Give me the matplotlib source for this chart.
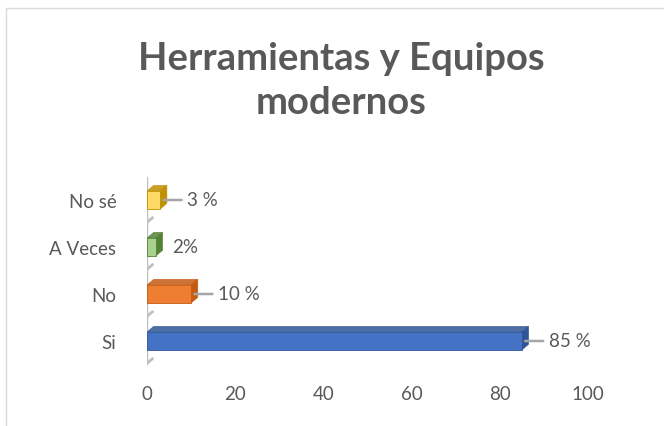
import matplotlib.pyplot as plt
from matplotlib.patches import Polygon, Rectangle

# datos
categorias = ["Si", "No", "A Veces", "No sé"]
valores = [85, 10, 2, 3]
etiquetas = ["85 %", "10 %", "2%", "3 %"]
frente = ["#4472C4", "#ED7D31", "#A9D18E", "#FFD966"]
oscuro = ["#2F5597", "#C55A11", "#548235", "#BF9000"]
con_linea = [True, True, False, True]

plt.rcParams['font.family'] = ['Lato', 'DejaVu Sans']
gris = "#595959"

fig = plt.figure(figsize=(6.64, 4.27), dpi=100)
# borde del área del gráfico
fig.patches.append(Rectangle((6 / 664, -0.1), 1.2, 1 - 9 / 427 + 0.1,
                             transform=fig.transFigure, fill=False,
                             edgecolor="#D9D9D9", lw=1))

ax = fig.add_axes([147 / 664, 1 - 365.5 / 427, 441 / 664, 188 / 427])

h = 0.38
dx, dy = 1.5, 0.12
y = list(range(len(categorias)))

# pared izquierda
ax.plot([-0.3, -0.3], [-0.5, 3.5], color="#BFBFBF", lw=2.5, zorder=1)
for k in range(len(categorias) + 1):
    ax.plot([-0.3, dx * 0.8], [k - 0.5, k - 0.5 + dy], color="#BFBFBF", lw=2, zorder=1)

ax.barh(y, valores, height=h, color=frente, edgecolor=oscuro, lw=0.6, zorder=3)
for yi, v, c in zip(y, valores, oscuro):
    top = Polygon([(0, yi + h / 2), (v, yi + h / 2), (v + dx, yi + h / 2 + dy),
                   (dx, yi + h / 2 + dy)], closed=True, facecolor=c, alpha=0.85,
                  edgecolor=c, lw=0.5, zorder=2)
    side = Polygon([(v, yi - h / 2), (v + dx, yi - h / 2 + dy),
                    (v + dx, yi + h / 2 + dy), (v, yi + h / 2)], closed=True,
                   facecolor=c, edgecolor=c, lw=0.5, zorder=2)
    ax.add_patch(top)
    ax.add_patch(side)

for yi, v, t, linea in zip(y, valores, etiquetas, con_linea):
    if linea:
        ax.annotate("", xy=(v + dx / 2, yi), xytext=(13, 0), textcoords="offset points",
                    arrowprops=dict(arrowstyle="-", color="#A6A6A6", lw=1.8,
                                    shrinkA=0, shrinkB=0))
        ax.annotate(t, xy=(v + dx / 2, yi), xytext=(17, 0), textcoords="offset points",
                    va="center", ha="left", fontsize=13.5, color=gris)
    else:
        ax.annotate(t, xy=(v + dx / 2, yi), xytext=(9, 0), textcoords="offset points",
                    va="center", ha="left", fontsize=13.5, color=gris)

ax.set_xlim(0, 100)
ax.set_ylim(-0.5, 3.5)
ax.set_xticks([0, 20, 40, 60, 80, 100])
ax.set_yticks(y)
ax.set_yticklabels(categorias)
ax.tick_params(length=0, labelsize=13.5, colors=gris)
ax.tick_params(axis="x", pad=15)
ax.tick_params(axis="y", pad=22)
for s in ax.spines.values():
    s.set_visible(False)

fig.text(341 / 664, 1 - 81 / 427, "Herramientas y Equipos\nmodernos", ha="center",
         va="center", fontsize=27.5, fontweight="bold", color=gris, linespacing=1.35)

fig.savefig("out.png", dpi=100)
